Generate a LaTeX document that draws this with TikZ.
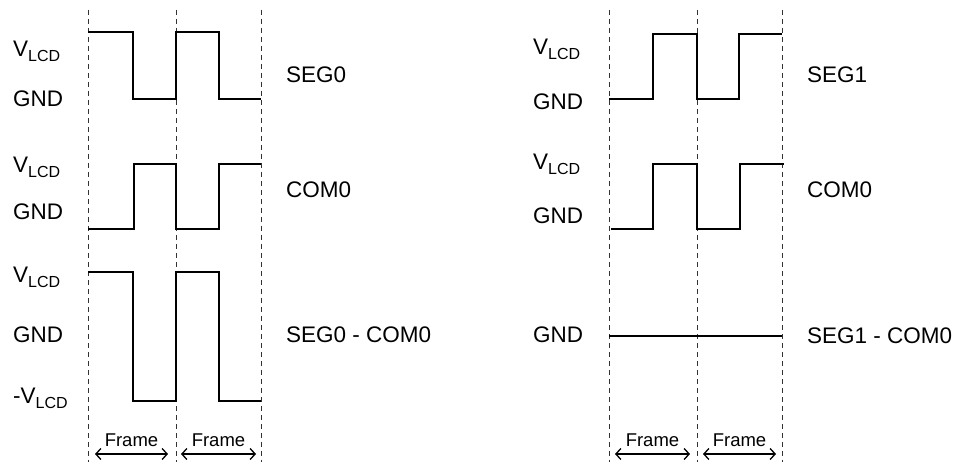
\documentclass[tikz,border=0pt]{standalone}
\usepackage{fontspec}
\setmainfont{Liberation Sans}
\usetikzlibrary{arrows.meta}
\newcommand{\vlcd}{V\raisebox{-5pt}{\fontsize{16}{16}\selectfont LCD}}

\begin{document}
\begin{tikzpicture}[x=1pt,y=-1pt]
\tikzstyle{every node}+=[inner sep=0pt,anchor=base west,font=\fontsize{22.5}{26}\selectfont]
\tikzstyle{divider}=[black!80,line width=0.8pt,dash pattern=on 5pt off 4pt]
\tikzstyle{wave}=[black,line width=1.7pt,line join=miter]
\tikzstyle{framearrow}=[black,line width=1.3pt,{Straight Barb[length=5pt,width=11pt]}-{Straight Barb[length=5pt,width=11pt]}]
\tikzstyle{framelabel}=[anchor=base,font=\fontsize{18.5}{22}\selectfont]
\useasboundingbox (0,0) rectangle (968,462);
\draw [divider] (88,10) -- (88,462);
\draw [divider] (176,10) -- (176,462);
\draw [divider] (261,10) -- (261,462);
\draw [divider] (609,10) -- (609,462);
\draw [divider] (697,10) -- (697,462);
\draw [divider] (782,10) -- (782,462);
\draw [wave] (88,32) -- (133,32) -- (133,99) -- (176,99) -- (176,32) -- (219,32) -- (219,99) -- (261,99);
\draw [wave] (88,229) -- (134,229) -- (134,164) -- (176,164) -- (176,229) -- (219,229) -- (219,164) -- (261,164);
\draw [wave] (88,272) -- (133,272) -- (133,401) -- (176,401) -- (176,272) -- (219,272) -- (219,401) -- (261,401);
\draw [wave] (609,99) -- (653,99) -- (653,34) -- (697,34) -- (697,99) -- (739,99) -- (739,34) -- (782,34);
\draw [wave] (611,229) -- (653,229) -- (653,164) -- (697,164) -- (697,229) -- (740,229) -- (740,164) -- (784,164);
\draw [wave] (609,336) -- (782,336);
\node (lv1) at (13,57) {\vlcd};
\node (lg1) at (13,107) {GND};
\node (lv2) at (13,173) {\vlcd};
\node (lg2) at (13,220) {GND};
\node (lv3) at (13,282) {\vlcd};
\node (lg3) at (13,342) {GND};
\node (ln3) at (13,403) {-\vlcd};
\node (rv1) at (533,55) {\vlcd};
\node (rg1) at (533,110) {GND};
\node (rv2) at (533,170) {\vlcd};
\node (rg2) at (533,224) {GND};
\node (rg3) at (533,342) {GND};
\node (seg0) at (286,83) {SEG0};
\node (com0l) at (286,198) {COM0};
\node (diff0) at (286,342) {SEG0 - COM0};
\node (seg1) at (807,83) {SEG1};
\node (com0r) at (807,198) {COM0};
\node (diff1) at (807,343) {SEG1 - COM0};
\node [framelabel] (fl1) at (131.5,446) {Frame};
\node [framelabel] (fl2) at (218.5,446) {Frame};
\node [framelabel] (fr1) at (652.5,446) {Frame};
\node [framelabel] (fr2) at (739.5,446) {Frame};
\draw [framearrow] (95,454) -- (168,454);
\draw [framearrow] (181,454) -- (256,454);
\draw [framearrow] (615,454) -- (690,454);
\draw [framearrow] (703,454) -- (776,454);
\end{tikzpicture}
\end{document}
